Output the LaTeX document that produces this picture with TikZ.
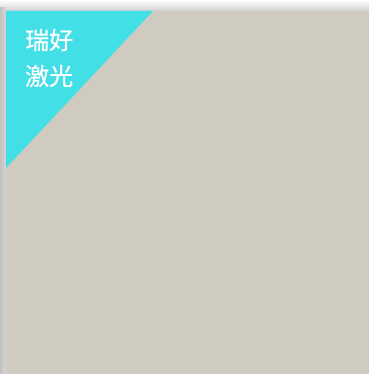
\documentclass[tikz,border=0pt]{standalone}
\usepackage{fontspec}
\newfontfamily\cjk[FakeBold=0.6]{Noto Sans CJK SC}
\usetikzlibrary{calc}
\definecolor{sand}{HTML}{CFCBC1}
\definecolor{aqua}{HTML}{42E0E6}
\tikzset{brand/.style={text=white, font=\cjk\fontsize{24}{24}\selectfont, inner sep=0pt, anchor=west}}

\begin{document}
\begin{tikzpicture}[x=1pt, y=-1pt]
			%%%%% START %%%%%
			\useasboundingbox[fill=white] (0, 0) rectangle (369, 374);
			
			\shade[top color=white, bottom color=black!18] (0, 0) rectangle (369, 11);
			\shade[left color=black!24, right color=black!16] (0, 8) rectangle (6, 374);
			
			\fill[sand] (6, 11) rectangle (369, 374);
			\fill[aqua] (6, 11) -- (153, 11) -- (6, 168) -- cycle;
			
			\node[brand] (brandtop) at (25, 40) {瑞好};
			\node[brand] (brandbottom) at (25, 76) {激光};
			%%%%% END %%%%%
		\end{tikzpicture}
\end{document}
